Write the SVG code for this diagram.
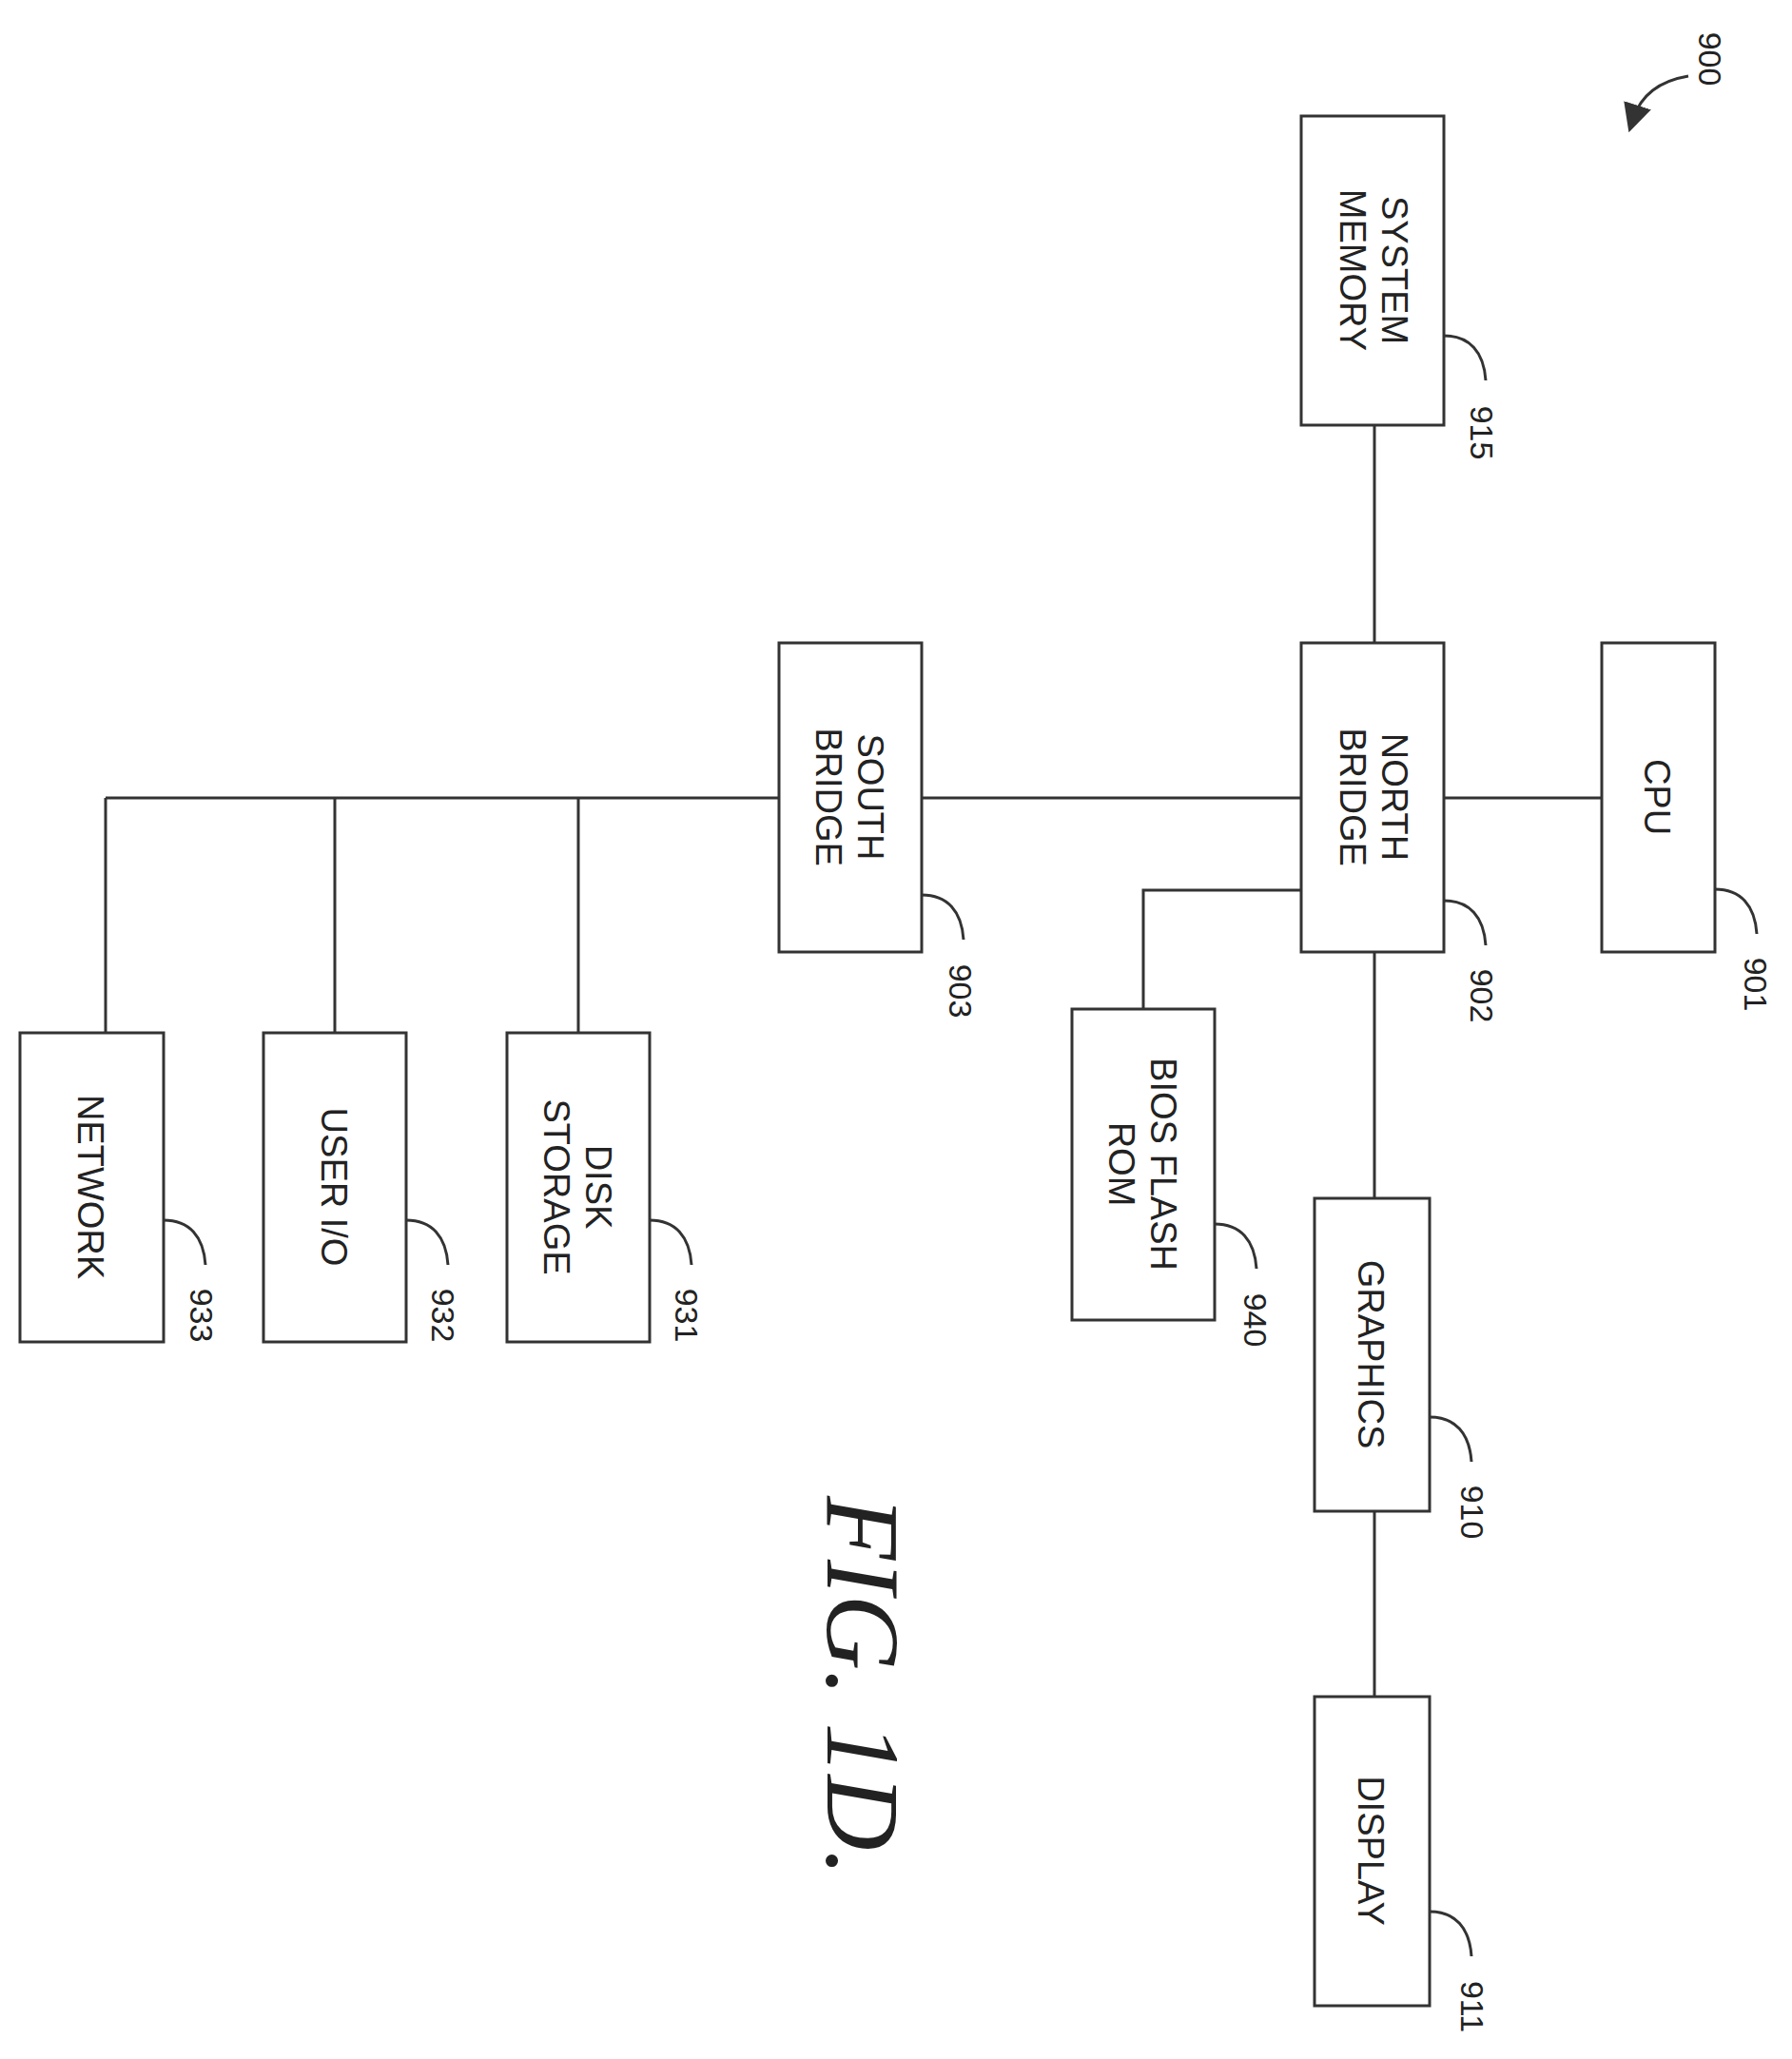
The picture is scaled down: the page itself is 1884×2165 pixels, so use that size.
<svg xmlns="http://www.w3.org/2000/svg" width="1884" height="2165" viewBox="0 0 1884 2165">
<style>
.b{fill:#fff;stroke:#333;stroke-width:3}
.c{fill:none;stroke:#333;stroke-width:3}
.t{font-family:"Liberation Sans",Arial,sans-serif;font-size:38px;fill:#222;text-anchor:middle}
.n{font-family:"Liberation Sans",Arial,sans-serif;font-size:34px;fill:#222;text-anchor:middle}
</style>
<defs><marker id="ah" markerWidth="10" markerHeight="10" refX="5" refY="5" orient="auto" markerUnits="strokeWidth"><path d="M0,0 L10,5 L0,10 Z" fill="#333"/></marker></defs>
<rect width="1884" height="2165" fill="#fff"/>
<g id="connectors">
<path class="c" d="M1445,447 V676"/>
<path class="c" d="M111,839 H1684"/>
<path class="c" d="M1445,1001 V1260"/>
<path class="c" d="M1445,1589 V1784"/>
<path class="c" d="M1368,936 H1202 V1061"/>
<path class="c" d="M608,839 V1086"/>
<path class="c" d="M352,839 V1086"/>
<path class="c" d="M111,839 V1086"/>
</g>
<g id="n915"><rect class="b" x="1368" y="122" width="150" height="325"/><text class="t" transform="translate(1445,284) rotate(90)"><tspan x="0" y="-8">SYSTEM</tspan><tspan x="0" y="36">MEMORY</tspan></text><path class="c" d="M1518,353 C1545,353 1560,370 1562,400"/><text class="n" transform="translate(1558,455) rotate(90)" y="12">915</text></g>
<g id="n902"><rect class="b" x="1368" y="676" width="150" height="325"/><text class="t" transform="translate(1445,838) rotate(90)"><tspan x="0" y="-8">NORTH</tspan><tspan x="0" y="36">BRIDGE</tspan></text><path class="c" d="M1518,947 C1545,947 1560,964 1562,994"/><text class="n" transform="translate(1558,1047) rotate(90)" y="12">902</text></g>
<g id="n901"><rect class="b" x="1684" y="676" width="119" height="325"/><text class="t" transform="translate(1743,838) rotate(90)" y="14">CPU</text><path class="c" d="M1803,935 C1830,935 1845,952 1847,982"/><text class="n" transform="translate(1846,1035) rotate(90)" y="12">901</text></g>
<g id="n903"><rect class="b" x="819" y="676" width="150" height="325"/><text class="t" transform="translate(894,838) rotate(90)"><tspan x="0" y="-8">SOUTH</tspan><tspan x="0" y="36">BRIDGE</tspan></text><path class="c" d="M969,941 C996,941 1011,958 1013,988"/><text class="n" transform="translate(1010,1042) rotate(90)" y="12">903</text></g>
<g id="n910"><rect class="b" x="1382" y="1260" width="121" height="329"/><text class="t" transform="translate(1442,1424) rotate(90)" y="14">GRAPHICS</text><path class="c" d="M1503,1490 C1530,1490 1545,1507 1547,1537"/><text class="n" transform="translate(1548,1590) rotate(90)" y="12">910</text></g>
<g id="n911"><rect class="b" x="1382" y="1784" width="121" height="325"/><text class="t" transform="translate(1442,1946) rotate(90)" y="14">DISPLAY</text><path class="c" d="M1503,2010 C1530,2010 1545,2027 1547,2057"/><text class="n" transform="translate(1548,2110) rotate(90)" y="12">911</text></g>
<g id="n940"><rect class="b" x="1127" y="1061" width="150" height="327"/><text class="t" transform="translate(1202,1224) rotate(90)"><tspan x="0" y="-8">BIOS FLASH</tspan><tspan x="0" y="36">ROM</tspan></text><path class="c" d="M1277,1287 C1304,1287 1319,1304 1321,1334"/><text class="n" transform="translate(1320,1388) rotate(90)" y="12">940</text></g>
<g id="n931"><rect class="b" x="533" y="1086" width="150" height="325"/><text class="t" transform="translate(608,1248) rotate(90)"><tspan x="0" y="-8">DISK</tspan><tspan x="0" y="36">STORAGE</tspan></text><path class="c" d="M683,1283 C710,1283 725,1300 727,1330"/><text class="n" transform="translate(722,1383) rotate(90)" y="12">931</text></g>
<g id="n932"><rect class="b" x="277" y="1086" width="150" height="325"/><text class="t" transform="translate(352,1248) rotate(90)" y="14">USER I/O</text><path class="c" d="M427,1283 C454,1283 469,1300 471,1330"/><text class="n" transform="translate(466,1383) rotate(90)" y="12">932</text></g>
<g id="n933"><rect class="b" x="21" y="1086" width="151" height="325"/><text class="t" transform="translate(96,1248) rotate(90)" y="14">NETWORK</text><path class="c" d="M172,1283 C199,1283 214,1300 216,1330"/><text class="n" transform="translate(212,1383) rotate(90)" y="12">933</text></g>
<g id="ref900"><text class="n" transform="translate(1798,62) rotate(90)" y="12">900</text><path class="c" d="M1775,80 C1745,85 1725,100 1717,125" marker-end="url(#ah)"/></g>
<g id="fig"><text transform="translate(900,1773) rotate(90)" y="30" text-anchor="middle" font-family="'Liberation Serif','Times New Roman',serif" font-style="italic" font-size="110" fill="#222">FIG. 1D.</text></g>
</svg>
